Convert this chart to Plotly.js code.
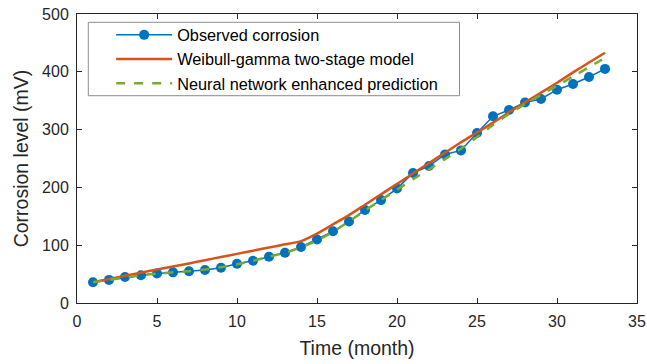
<!DOCTYPE html>
<html><head><meta charset="utf-8">
<script src="https://cdn.plot.ly/plotly-3.0.1.min.js"></script>
<style>html,body{margin:0;padding:0;background:#fff}#c{width:647px;height:364px}</style>
</head><body><div id="c"></div>
<script>
const months = [1,2,3,4,5,6,7,8,9,10,11,12,13,14,15,16,17,18,19,20,21,22,23,24,25,26,27,28,29,30,31,32,33];
const observed = [36,40,45,48,51,53,55,57,61,68,73,80,87,97,110,124,141,161,178,198,225,237,257,264,294,323,334,347,353,369,379,391,405];
const weibullGamma = [36,41.5,47,52.5,58,63,68.5,74,79.5,85,90.5,96,101.5,107,120,136,152,170,188,206,224,242,260,278,295,312,330,347,364,381,399,416,433];
const neuralNet = [36,40,44,48,51,53,55,58,62,67,73,80,87,96,108,123,141,160,178,196,214,231,249,267,287,308,327,344,360,376,392,408,424];
const seriesNames = ["Observed corrosion","Weibull-gamma two-stage model","Neural network enhanced prediction"];
const xTicks = [0,5,10,15,20,25,30,35];
const yTicks = [0,100,200,300,400,500];

const font = "Liberation Sans, Arial, sans-serif";
const ink = "#262626";
const traces = [
  {x: months, y: observed, name: seriesNames[0], mode: "lines+markers",
   line: {color: "#0072BD", width: 1.5}, marker: {color: "#0072BD", size: 10}},
  {x: months, y: weibullGamma, name: seriesNames[1], mode: "lines",
   line: {color: "#D95319", width: 2.5, shape: "spline", smoothing: 0.5}},
  {x: months, y: neuralNet, name: seriesNames[2], mode: "lines",
   line: {color: "#77AC30", width: 2.5, dash: "dash", shape: "spline", smoothing: 0.5}}
];
const axisCommon = {showgrid: false, zeroline: false, showline: true, mirror: "ticks",
  linecolor: ink, linewidth: 1, ticks: "inside", ticklen: 5, tickcolor: ink,
  tickfont: {family: font, size: 16, color: ink}};
const layout = {
  width: 647, height: 364,
  margin: {l: 77, r: 10, t: 14, b: 61},
  paper_bgcolor: "#fff", plot_bgcolor: "#fff",
  showlegend: true,
  legend: {x: 0.061, y: 0.987, xanchor: "left", yanchor: "top",
    borderwidth: 0, bgcolor: "rgba(0,0,0,0)",
    font: {family: font, size: 16.3, color: "#000"}, itemwidth: 56, tracegroupgap: 0},
  shapes: [{type: "rect", xref: "paper", yref: "paper",
    x0: (88.3 - 77) / 560, x1: (459.5 - 77) / 560,
    y0: (303 - 95.7) / 289, y1: (303 - 22.3) / 289,
    line: {color: "#8c8c8c", width: 1}, fillcolor: "rgba(255,255,255,1)", layer: "below"}],
  xaxis: Object.assign({}, axisCommon, {range: [0, 35], tickvals: xTicks, ticklabelstandoff: 4,
    title: {text: "Time (month)", font: {family: font, size: 19.5, color: ink}, standoff: 12}}),
  yaxis: Object.assign({}, axisCommon, {range: [0, 500], tickvals: yTicks, ticklabelstandoff: 4,
    title: {text: "Corrosion level (mV)", font: {family: font, size: 19.5, color: ink}, standoff: 8}})
};
Plotly.newPlot("c", traces, layout, {displayModeBar: false, staticPlot: true});
</script></body></html>
